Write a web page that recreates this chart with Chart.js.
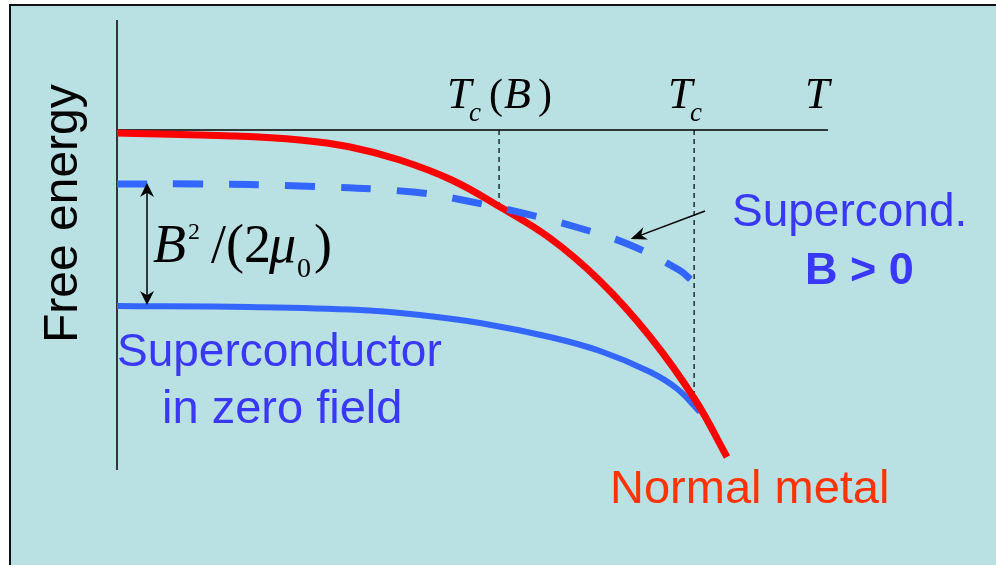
<!DOCTYPE html>
<html>
<head>
<meta charset="utf-8">
<script src="https://cdn.jsdelivr.net/npm/chart.js@4.4.1/dist/chart.umd.min.js"></script>
<style>
  html, body { margin: 0; padding: 0; background: #fff; }
  #wrap { width: 996px; height: 565px; position: relative; }
</style>
</head>
<body>
<div id="wrap"><canvas id="freeEnergyChart"></canvas></div>
<script>
// Temperature in units of Tc, free energy in arbitrary units (0 = normal metal at T=0)
const tcB = 0.662;
const tc = 1.0;
const tMax = 1.232;

// Normal metal
const normalT = [0, 0.201, 0.317, 0.404, 0.490, 0.580, 0.664, 0.750, 0.837, 0.924, 1.002, 1.057];
const normalF = [-0.03, -0.06, -0.10, -0.17, -0.30, -0.50, -0.77, -1.08, -1.51, -2.07, -2.70, -3.27];

// Superconductor, B > 0 (dashed)
const scFieldT = [0, 0.144, 0.317, 0.513, 0.607, 0.702, 0.795, 0.889, 0.974, 0.997];
const scFieldF = [-0.54, -0.54, -0.56, -0.62, -0.71, -0.83, -0.97, -1.15, -1.40, -1.51];

// Superconductor in zero field
const scZeroT = [0, 0.230, 0.421, 0.525, 0.629, 0.750, 0.837, 0.924, 0.971, 1.010];
const scZeroF = [-1.76, -1.77, -1.80, -1.85, -1.93, -2.07, -2.21, -2.42, -2.59, -2.82];

const toPoints = (xs, ys) => xs.map((x, i) => ({ x: x, y: ys[i] }));

const serif = '"Liberation Serif", "Times New Roman", serif';
const sans = '"Liberation Sans", Arial, sans-serif';

function arrowHead(ctx, x1, y1, x2, y2, len, half) {
    // tip at (x2, y2), pointing from (x1, y1)
    const a = Math.atan2(y2 - y1, x2 - x1);
    const c = Math.cos(a), s = Math.sin(a);
    const bx = x2 - len * c, by = y2 - len * s;
    const nx = x2 - len * 0.7 * c, ny = y2 - len * 0.7 * s;
    ctx.beginPath();
    ctx.moveTo(x2, y2);
    ctx.lineTo(bx - half * s, by + half * c);
    ctx.lineTo(nx, ny);
    ctx.lineTo(bx + half * s, by - half * c);
    ctx.closePath();
    ctx.fill();
}

const sketchPlugin = {
    id: 'sketch',
    beforeDraw(chart) {
        const ctx = chart.ctx;
        ctx.save();
        ctx.fillStyle = '#ffffff';
        ctx.fillRect(0, 0, chart.width, chart.height);
        ctx.fillStyle = '#b9e0e3';
        ctx.fillRect(10, 5, chart.width - 10, chart.height - 5);
        ctx.strokeStyle = '#111';
        ctx.lineWidth = 2;
        ctx.beginPath();
        ctx.moveTo(10, chart.height);
        ctx.lineTo(10, 5);
        ctx.lineTo(chart.width, 5);
        ctx.stroke();
        ctx.restore();
    },
    beforeDatasetsDraw(chart) {
        const ctx = chart.ctx;
        const x = chart.scales.x, y = chart.scales.y;
        ctx.save();
        ctx.strokeStyle = '#000';
        ctx.lineWidth = 1.5;
        // axes
        ctx.beginPath();
        ctx.moveTo(x.getPixelForValue(0), y.getPixelForValue(y.max));
        ctx.lineTo(x.getPixelForValue(0), y.getPixelForValue(y.min));
        ctx.moveTo(x.getPixelForValue(0), y.getPixelForValue(0));
        ctx.lineTo(x.getPixelForValue(tMax), y.getPixelForValue(0));
        ctx.stroke();
        // dashed markers at Tc(B) and Tc
        ctx.lineWidth = 1.2;
        ctx.setLineDash([5, 4]);
        ctx.beginPath();
        ctx.moveTo(x.getPixelForValue(tcB), y.getPixelForValue(0));
        ctx.lineTo(x.getPixelForValue(tcB), y.getPixelForValue(-0.78));
        ctx.moveTo(x.getPixelForValue(tc), y.getPixelForValue(0));
        ctx.lineTo(x.getPixelForValue(tc), y.getPixelForValue(-2.73));
        ctx.stroke();
        ctx.restore();
    },
    afterDatasetsDraw(chart) {
        const ctx = chart.ctx;
        const x = chart.scales.x, y = chart.scales.y;
        ctx.save();
        ctx.fillStyle = '#000';
        ctx.strokeStyle = '#000';

        // double arrow for B^2/(2 mu0)
        const ax = x.getPixelForValue(0.052);
        const aTop = y.getPixelForValue(-0.53), aBot = y.getPixelForValue(-1.75);
        ctx.lineWidth = 1.5;
        ctx.beginPath();
        ctx.moveTo(ax, aTop + 8);
        ctx.lineTo(ax, aBot - 8);
        ctx.stroke();
        arrowHead(ctx, ax, aBot, ax, aTop, 14, 7);
        arrowHead(ctx, ax, aTop, ax, aBot, 14, 7);

        // pointer to dashed curve
        const px1 = x.getPixelForValue(1.019), py1 = y.getPixelForValue(-0.81);
        const px2 = x.getPixelForValue(0.890), py2 = y.getPixelForValue(-1.09);
        ctx.lineWidth = 1.5;
        ctx.beginPath();
        ctx.moveTo(px1, py1);
        ctx.lineTo(px2 + (px1 - px2) * 0.12, py2 + (py1 - py2) * 0.12);
        ctx.stroke();
        arrowHead(ctx, px1, py1, px2, py2, 16, 6.5);

        // axis labels
        ctx.textBaseline = 'alphabetic';
        ctx.save();
        ctx.translate(77, 343);
        ctx.rotate(-Math.PI / 2);
        ctx.font = '48px ' + sans;
        ctx.fillText('Free energy', 0, 0);
        ctx.restore();

        ctx.font = 'italic 44px ' + serif;
        ctx.fillText('T', 447, 108);
        ctx.fillText('B', 504, 108);
        ctx.fillText('T', 668, 108);
        ctx.fillText('T', 805, 108);
        ctx.font = '42px ' + serif;
        ctx.fillText('(', 489, 108);
        ctx.fillText(')', 538, 108);
        ctx.font = 'italic 27px ' + serif;
        ctx.fillText('c', 469, 121);
        ctx.fillText('c', 690, 121);

        // B^2/(2 mu0)
        ctx.font = 'italic 54px ' + serif;
        ctx.fillText('B', 153, 262);
        ctx.fillText('\u03bc', 269, 262);
        ctx.font = '54px ' + serif;
        ctx.fillText('/(2', 211, 262);
        ctx.fillText(')', 314, 262);
        ctx.font = '24px ' + serif;
        ctx.fillText('2', 188, 239);
        ctx.font = '28px ' + serif;
        ctx.fillText('0', 297, 277);

        // curve labels
        ctx.fillStyle = '#3838f6';
        ctx.font = '46px ' + sans;
        ctx.fillText('Superconductor', 117, 366);
        ctx.font = '47px ' + sans;
        ctx.fillText('in zero field', 162, 423);
        ctx.font = '46px ' + sans;
        ctx.fillText('Supercond.', 732, 226);
        ctx.font = 'bold 45px ' + sans;
        ctx.fillText('B > 0', 805, 284);

        ctx.fillStyle = '#ff3300';
        ctx.font = '47px ' + sans;
        ctx.fillText('Normal metal', 610, 503);
        ctx.restore();
    }
};

const ctx = document.getElementById('freeEnergyChart');
new Chart(ctx, {
    type: 'line',
    data: {
        datasets: [
            {
                label: 'Superconductor, B > 0',
                data: toPoints(scFieldT, scFieldF),
                borderColor: '#3366ff',
                borderWidth: 7,
                borderDash: [30, 26],
                borderCapStyle: 'butt',
                tension: 0.4,
                pointRadius: 0,
                order: 0
            },
            {
                label: 'Normal metal',
                data: toPoints(normalT, normalF),
                borderColor: '#ff0000',
                borderWidth: 7,
                tension: 0.4,
                pointRadius: 0,
                order: 1
            },
            {
                label: 'Superconductor in zero field',
                data: toPoints(scZeroT, scZeroF),
                borderColor: '#3366ff',
                borderWidth: 6,
                tension: 0.4,
                pointRadius: 0,
                order: 2
            }
        ]
    },
    options: {
        responsive: true,
        maintainAspectRatio: false,
        animation: false,
        layout: { padding: { left: 117, right: 168, top: 20, bottom: 95 } },
        plugins: {
            legend: { display: false },
            tooltip: { enabled: false }
        },
        elements: { line: { fill: false } },
        scales: {
            x: { type: 'linear', min: 0, max: tMax, display: false },
            y: { type: 'linear', min: -3.4, max: 1.1, display: false }
        }
    },
    plugins: [sketchPlugin]
});
</script>
</body>
</html>
